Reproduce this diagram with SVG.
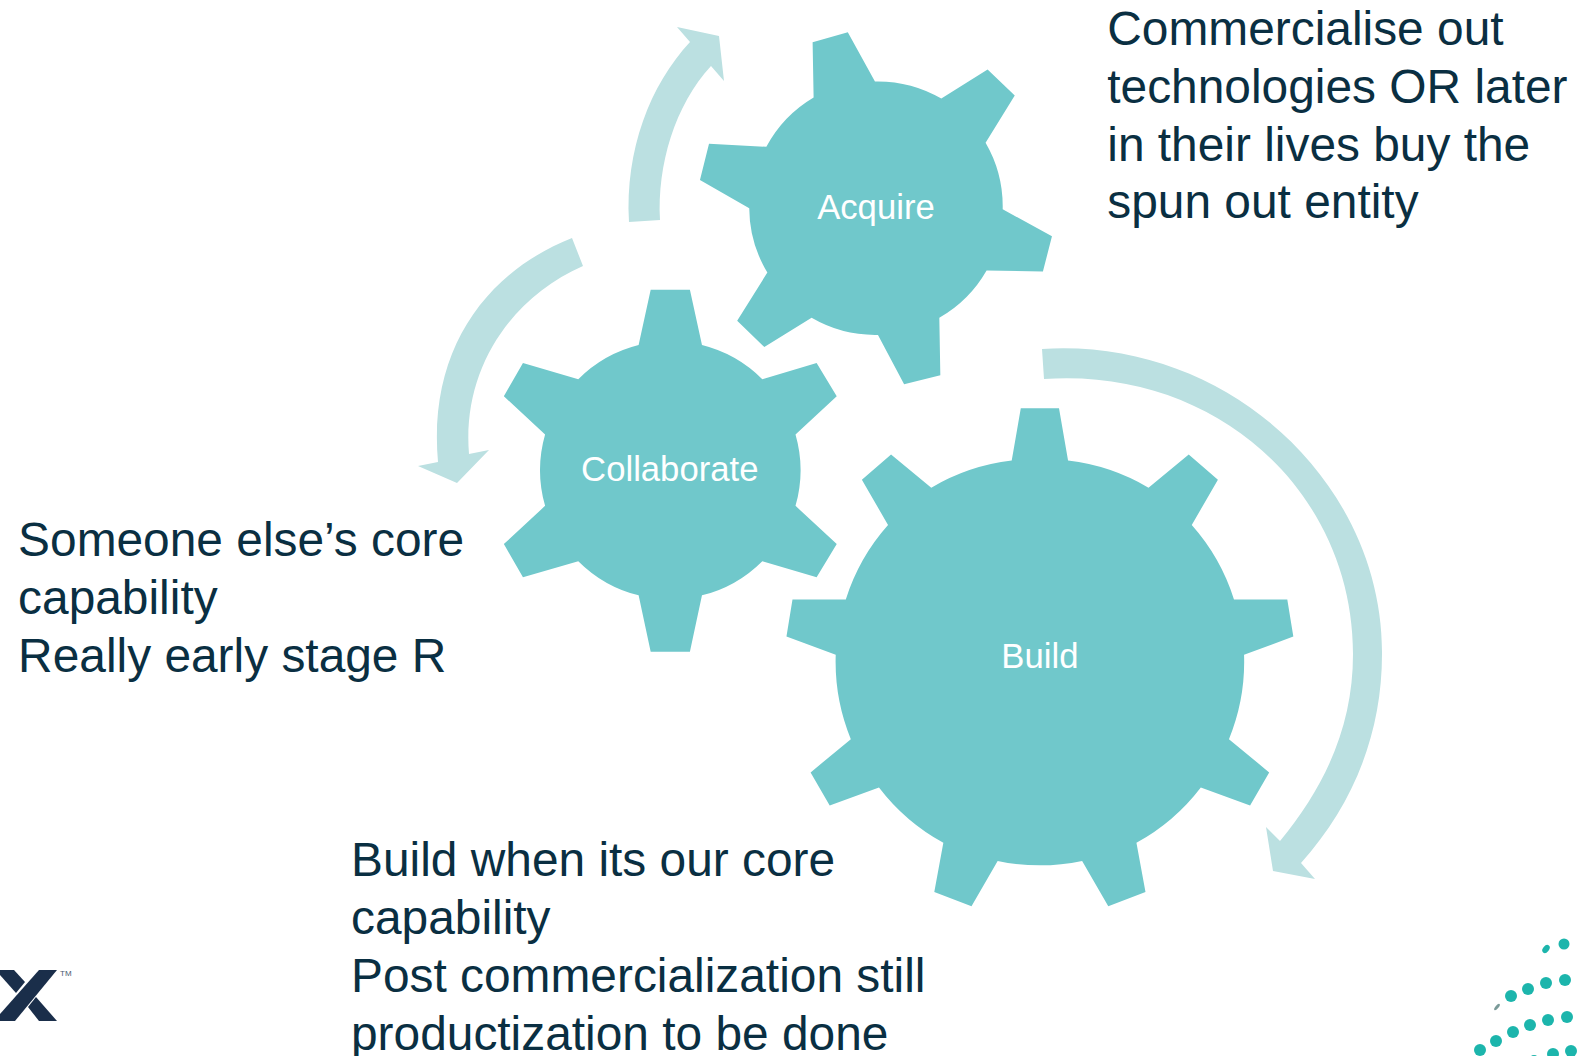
<svg xmlns="http://www.w3.org/2000/svg" width="1577" height="1056" viewBox="0 0 1577 1056">
<style>
.gear{fill:#70C8CB}
.arrow{fill:#BBE0E1}
.note{font-family:"Liberation Sans",Arial,sans-serif;font-size:47.6px;fill:#0A2F42}
.label{font-family:"Liberation Sans",Arial,sans-serif;font-size:34.5px;fill:#fff;text-anchor:middle}
.dot{fill:#1FB5AC}
.logo{fill:#1A2E4A}
</style>
<defs><filter id="soft" x="-5%" y="-5%" width="110%" height="110%"><feGaussianBlur stdDeviation="0.7"/></filter></defs>
<rect width="1577" height="1056" fill="#fff"/>
<g id="connectors">
<path class="arrow" d="M629 222C625 150 650 85 690 42L677 27L719 36L724 81L711 66C675 105 657 165 660 220Z"/>
<path class="arrow" d="M572 238C486 272 428 350 438 462L418 466L457 483L489 450L469 454C462 370 510 298 583 266Z"/>
<path class="arrow" d="M1042 349C1227 337 1383 483 1382 654C1382 734 1353 805 1301 863L1315 879L1273 871L1266 827L1280 841C1327 784 1353 724 1353 654C1353 493 1217 367 1044 379Z"/>
</g>
<g transform="scale(1.0057)">
<g id="acquire">
<path class="gear" d="M809 97L808 42L843 32L870 81A126 126 0 0 1 936 98L982 69L1009 95L980 142A126 126 0 0 1 997 208L1046 235L1037 270L981 269A126 126 0 0 1 934 316L935 373L899 382L873 333A126 126 0 0 1 807 316L760 345L733 319L763 271A126 126 0 0 1 745 207L696 179L705 143L762 146A126 126 0 0 1 809 97Z"/>
<text class="label" x="871" y="218">Acquire</text>
</g>
<g id="collaborate">
<path class="gear" d="M635 343L647 288L686 288L698 343A129 129 0 0 1 758 377L812 361L832 394L791 432A129 129 0 0 1 791 503L832 541L812 574L758 558A129 129 0 0 1 698 592L686 648L647 648L635 592A129 129 0 0 1 575 558L520 574L501 541L542 503A129 129 0 0 1 542 432L501 394L520 361L575 377A129 129 0 0 1 635 343Z"/>
<text class="label" x="666" y="478">Collaborate</text>
</g>
<g id="build">
<path class="gear" d="M1006 458L1015 406L1053 406L1062 458A203 203 0 0 1 1142 485L1182 452L1211 477L1185 522A203 203 0 0 1 1227 596L1280 596L1286 633L1237 651A203 203 0 0 1 1222 735L1262 768L1243 801L1194 783A203 203 0 0 1 1130 838L1139 887L1102 901L1076 856A203 203 0 0 1 992 856L966 901L929 887L938 838A203 203 0 0 1 874 783L825 801L806 768L846 735A203 203 0 0 1 831 651L782 633L788 596L841 596A203 203 0 0 1 883 522L857 477L886 452L926 485A203 203 0 0 1 1006 458Z"/>
<text class="label" x="1034" y="664">Build</text>
</g>
<g id="note-acquire">
<text class="note" x="1101" y="44.7">Commercialise out</text>
<text class="note" x="1101" y="102.2">technologies OR later</text>
<text class="note" x="1101" y="159.7">in their lives buy the</text>
<text class="note" x="1101" y="217.2">spun out entity</text>
</g>
<g id="note-collaborate">
<text class="note" x="18" y="552.7">Someone else’s core</text>
<text class="note" x="18" y="610.2">capability</text>
<text class="note" x="18" y="667.7">Really early stage R</text>
</g>
<g id="note-build">
<text class="note" x="349" y="871.2">Build when its our core</text>
<text class="note" x="349" y="928.7">capability</text>
<text class="note" x="349" y="986.2">Post commercialization still</text>
<text class="note" x="349" y="1043.7">productization to be done</text>
</g>
</g>
<g id="logo">
<polygon class="logo" points="39,970 57,970 15,1021 0,1021 0,1014"/>
<polygon class="logo" points="0,970 14,970 25,982 16,993 0,975"/>
<polygon class="logo" points="36,997 57,1021 39,1021 28,1007"/>
<text x="60" y="976" font-family="Liberation Sans,Arial,sans-serif" font-size="8" fill="#4A5A70">TM</text>
</g>
<g id="dots" filter="url(#soft)">
<circle class="dot" cx="1564" cy="944" r="5.5"/>
<ellipse class="dot" cx="1546" cy="949" rx="3" ry="4.5" transform="rotate(40 1546 949)"/>
<circle class="dot" cx="1565" cy="980" r="6"/>
<circle class="dot" cx="1546" cy="983" r="6"/>
<circle class="dot" cx="1528" cy="989" r="6"/>
<circle class="dot" cx="1511" cy="996" r="6"/>
<ellipse cx="1497" cy="1007" rx="1.5" ry="4" fill="#7A9A98" transform="rotate(40 1497 1007)"/>
<circle class="dot" cx="1567" cy="1017" r="6"/>
<circle class="dot" cx="1548" cy="1020" r="6"/>
<circle class="dot" cx="1530" cy="1025" r="6"/>
<circle class="dot" cx="1513" cy="1032" r="6"/>
<circle class="dot" cx="1496" cy="1041" r="6"/>
<circle class="dot" cx="1480" cy="1050" r="6"/>
<circle class="dot" cx="1571" cy="1051" r="6"/>
<circle class="dot" cx="1553" cy="1054" r="6"/>
<circle class="dot" cx="1534" cy="1060" r="5"/>
</g>
</svg>
